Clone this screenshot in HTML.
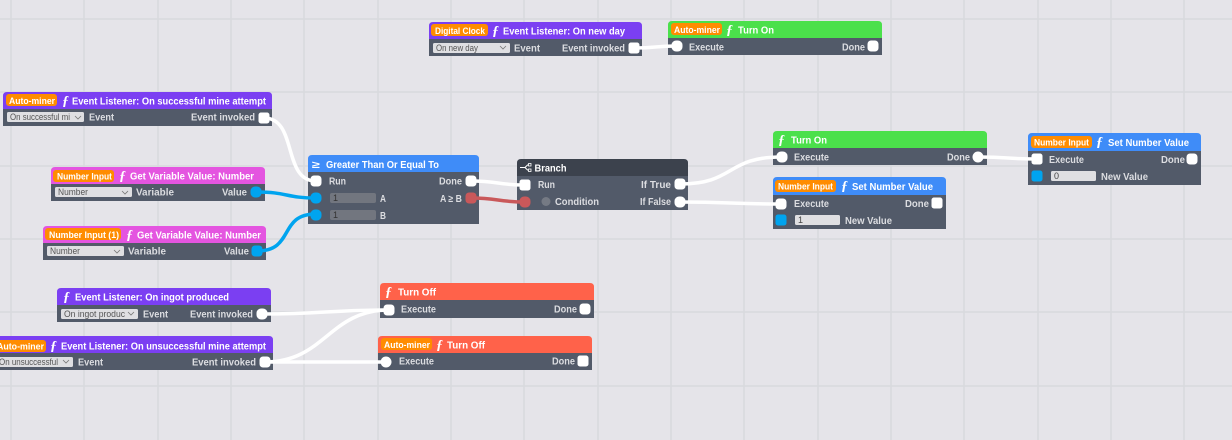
<!DOCTYPE html>
<html><head><meta charset="utf-8"><style>
html,body{margin:0;padding:0;background:#e5e4e9;width:1232px;height:440px;overflow:hidden}
svg{display:block}
text{font-family:"Liberation Sans",sans-serif;font-weight:700;font-size:10px}
.h{fill:#fff}.l{fill:#dcdde1;transform:translateY(-.5px)}.b{fill:#fff;font-size:9.5px}.s{fill:#555;font-size:9px;font-weight:400}
.f{fill:#fff;font-family:"Liberation Serif",serif;font-style:italic;font-size:14px}
.w{fill:none;stroke:#fff;stroke-width:3.5}.u{fill:none;stroke:#00a4ef;stroke-width:3.5}.r{fill:none;stroke:#c9585a;stroke-width:3.5}
.g{stroke:#d8d9dd;stroke-width:1.5}
.d{fill:#525a69}.o{fill:#ff8c00}.c{fill:none;stroke:#777;stroke-width:.8}
.pw{fill:#fff;stroke:#fff;stroke-width:1}.pb{fill:#00a4ef;stroke:#00a4ef;stroke-width:1}.pr{fill:#c9585a;stroke:#c9585a;stroke-width:1}
.sel{fill:#dfdfe2}
</style></head><body>
<svg width="1232" height="440" viewBox="0 0 1232 440" xmlns="http://www.w3.org/2000/svg">
<rect width="1232" height="440" fill="#e5e4e9"/>
<path class="g" d="M11 0V440M84 0V440M158 0V440M231 0V440M304 0V440M378 0V440M451 0V440M524 0V440M598 0V440M671 0V440M744 0V440M818 0V440M891 0V440M964 0V440M1038 0V440M1111 0V440M1184 0V440M0 19H1232M0 92H1232M0 166H1232M0 239H1232M0 312H1232M0 386H1232"/>

<!-- Digital clock -->
<rect class="d" x="429" y="35" width="213" height="21"/>
<path fill="#7b3ff2" d="M429 39V26Q429 22 433 22H638Q642 22 642 26V39Z"/>
<rect class="o" x="431" y="24" width="57" height="12" rx="3"/>
<text class="b" x="435" y="34" textLength="50" lengthAdjust="spacingAndGlyphs">Digital Clock</text>
<text class="f" x="492" y="35">ƒ</text>
<text class="h" x="503" y="34.5" textLength="122" lengthAdjust="spacingAndGlyphs">Event Listener: On new day</text>
<rect class="sel" x="433" y="43" width="77" height="10" rx="1.5"/>
<text class="s" x="436" y="51" textLength="42" lengthAdjust="spacingAndGlyphs">On new day</text>
<path class="c" d="M500 46l3 3 3-3"/>
<text class="l" x="514" y="52" textLength="26" lengthAdjust="spacingAndGlyphs">Event</text>
<text class="l" x="562" y="52" textLength="63" lengthAdjust="spacingAndGlyphs">Event invoked</text>

<!-- Auto-miner turn on -->
<rect class="d" x="668" y="35" width="214" height="20"/>
<path fill="#4be04b" d="M668 38V25Q668 21 672 21H878Q882 21 882 25V38Z"/>
<rect class="o" x="671" y="23" width="51" height="12" rx="3"/>
<text class="b" x="674" y="33" textLength="46" lengthAdjust="spacingAndGlyphs">Auto-miner</text>
<text class="f" x="726" y="34">ƒ</text>
<text class="h" x="738" y="33.5" textLength="36" lengthAdjust="spacingAndGlyphs">Turn On</text>
<text class="l" x="689" y="51" textLength="35" lengthAdjust="spacingAndGlyphs">Execute</text>
<text class="l" x="842" y="51" textLength="23" lengthAdjust="spacingAndGlyphs">Done</text>

<!-- Mine attempt -->
<rect class="d" x="3" y="105" width="269" height="21"/>
<path fill="#7b3ff2" d="M3 109V96Q3 92 7 92H268Q272 92 272 96V109Z"/>
<rect class="o" x="6" y="94" width="51" height="12" rx="3"/>
<text class="b" x="9" y="104" textLength="46" lengthAdjust="spacingAndGlyphs">Auto-miner</text>
<text class="f" x="62" y="105">ƒ</text>
<text class="h" x="72" y="104.5" textLength="194" lengthAdjust="spacingAndGlyphs">Event Listener: On successful mine attempt</text>
<rect class="sel" x="7" y="112" width="77" height="10" rx="1.5"/>
<text class="s" x="10" y="120" textLength="60" lengthAdjust="spacingAndGlyphs">On successful mi</text>
<path class="c" d="M75 116l3 3 3-3"/>
<text class="l" x="89" y="121" textLength="25" lengthAdjust="spacingAndGlyphs">Event</text>
<text class="l" x="191" y="121" textLength="64" lengthAdjust="spacingAndGlyphs">Event invoked</text>

<!-- Number input get -->
<rect class="d" x="51" y="180" width="214" height="21"/>
<path fill="#e455e0" d="M51 184V171Q51 167 55 167H261Q265 167 265 171V184Z"/>
<rect class="o" x="53" y="170" width="61" height="12" rx="3"/>
<text class="b" x="57" y="179.5" textLength="55" lengthAdjust="spacingAndGlyphs">Number Input</text>
<text class="f" x="119" y="180">ƒ</text>
<text class="h" x="130" y="179.5" textLength="124" lengthAdjust="spacingAndGlyphs">Get Variable Value: Number</text>
<rect class="sel" x="55" y="187" width="77" height="10" rx="1.5"/>
<text class="s" x="58" y="195" textLength="30" lengthAdjust="spacingAndGlyphs">Number</text>
<path class="c" d="M122 191l3 3 3-3"/>
<text class="l" x="136" y="196" textLength="38" lengthAdjust="spacingAndGlyphs">Variable</text>
<text class="l" x="222" y="196" textLength="25" lengthAdjust="spacingAndGlyphs">Value</text>

<!-- Number input (1) get -->
<rect class="d" x="43" y="239" width="223" height="21"/>
<path fill="#e455e0" d="M43 243V230Q43 226 47 226H262Q266 226 266 230V243Z"/>
<rect class="o" x="45" y="228" width="76" height="12" rx="3"/>
<text class="b" x="49" y="238" textLength="70" lengthAdjust="spacingAndGlyphs">Number Input (1)</text>
<text class="f" x="126" y="239">ƒ</text>
<text class="h" x="137" y="238.5" textLength="124" lengthAdjust="spacingAndGlyphs">Get Variable Value: Number</text>
<rect class="sel" x="47" y="246" width="77" height="10" rx="1.5"/>
<text class="s" x="50" y="254" textLength="30" lengthAdjust="spacingAndGlyphs">Number</text>
<path class="c" d="M114 250l3 3 3-3"/>
<text class="l" x="128" y="255" textLength="38" lengthAdjust="spacingAndGlyphs">Variable</text>
<text class="l" x="224" y="255" textLength="25" lengthAdjust="spacingAndGlyphs">Value</text>

<!-- GTE -->
<rect class="d" x="308" y="168" width="171" height="56"/>
<path fill="#3f8cf8" d="M308 172V159Q308 155 312 155H475Q479 155 479 159V172Z"/>
<text class="h" x="312" y="168" font-size="11" textLength="8" lengthAdjust="spacingAndGlyphs">≥</text>
<text class="h" x="326" y="168" textLength="113" lengthAdjust="spacingAndGlyphs">Greater Than Or Equal To</text>
<text class="l" x="329" y="185" textLength="17" lengthAdjust="spacingAndGlyphs">Run</text>
<text class="l" x="439" y="185" textLength="23" lengthAdjust="spacingAndGlyphs">Done</text>
<rect x="330" y="193" width="46" height="10" rx="2" fill="#72767f"/>
<text class="s" x="333" y="201" style="fill:#333">1</text>
<text class="l" x="380" y="202.500" textLength="6" lengthAdjust="spacingAndGlyphs">A</text>
<text class="l" x="440" y="202.500" textLength="22" lengthAdjust="spacingAndGlyphs">A ≥ B</text>
<rect x="330" y="210" width="46" height="10" rx="2" fill="#72767f"/>
<text class="s" x="333" y="218" style="fill:#333">1</text>
<text class="l" x="380" y="219.500" textLength="6" lengthAdjust="spacingAndGlyphs">B</text>

<!-- Branch -->
<rect class="d" x="517" y="172" width="171" height="38"/>
<path fill="#3c424d" d="M517 176V163Q517 159 521 159H684Q688 159 688 163V176Z"/>
<path fill="none" stroke="#fff" stroke-width="1" d="M520 167.500h5l2.500-2.500h1M525 167.500l2.500 2.500h1"/>
<rect x="528.500" y="163.500" width="2.500" height="2.500" fill="none" stroke="#fff" stroke-width=".8"/>
<rect x="528.500" y="169" width="2.500" height="2.500" fill="none" stroke="#fff" stroke-width=".8"/>
<text class="h" x="534.500" y="171.500" textLength="32" lengthAdjust="spacingAndGlyphs">Branch</text>
<text class="l" x="538" y="188.500" textLength="17" lengthAdjust="spacingAndGlyphs">Run</text>
<text class="l" x="641" y="188.500" textLength="30" lengthAdjust="spacingAndGlyphs">If True</text>
<circle cx="546" cy="201.500" r="4.500" fill="#757a84"/>
<text class="l" x="555" y="205.500" textLength="44" lengthAdjust="spacingAndGlyphs">Condition</text>
<text class="l" x="640" y="205.500" textLength="31" lengthAdjust="spacingAndGlyphs">If False</text>

<!-- Turn On -->
<rect class="d" x="773" y="144" width="214" height="21"/>
<path fill="#4be04b" d="M773 148V135Q773 131 777 131H983Q987 131 987 135V148Z"/>
<text class="f" x="778" y="144">ƒ</text>
<text class="h" x="791" y="143.500" textLength="36" lengthAdjust="spacingAndGlyphs">Turn On</text>
<text class="l" x="794" y="161" textLength="35" lengthAdjust="spacingAndGlyphs">Execute</text>
<text class="l" x="947" y="161" textLength="23" lengthAdjust="spacingAndGlyphs">Done</text>

<!-- Set lower -->
<rect class="d" x="773" y="190" width="173" height="39"/>
<path fill="#3f8cf8" d="M773 195V181Q773 177 777 177H942Q946 177 946 181V195Z"/>
<rect class="o" x="775" y="180" width="61" height="12" rx="3"/>
<text class="b" x="778" y="189.500" textLength="55" lengthAdjust="spacingAndGlyphs">Number Input</text>
<text class="f" x="841" y="190">ƒ</text>
<text class="h" x="852" y="190" textLength="81" lengthAdjust="spacingAndGlyphs">Set Number Value</text>
<text class="l" x="794" y="207.500" textLength="35" lengthAdjust="spacingAndGlyphs">Execute</text>
<text class="l" x="905" y="207.500" textLength="24" lengthAdjust="spacingAndGlyphs">Done</text>
<rect x="795" y="215" width="45" height="10" rx="1.500" fill="#dfdfe2"/>
<text class="s" x="798" y="223" style="fill:#444">1</text>
<text class="l" x="845" y="224.500" textLength="47" lengthAdjust="spacingAndGlyphs">New Value</text>

<!-- Set right -->
<rect class="d" x="1028" y="146" width="173" height="39"/>
<path fill="#3f8cf8" d="M1028 151V137Q1028 133 1032 133H1197Q1201 133 1201 137V151Z"/>
<rect class="o" x="1031" y="136" width="61" height="12" rx="3"/>
<text class="b" x="1034" y="145.500" textLength="55" lengthAdjust="spacingAndGlyphs">Number Input</text>
<text class="f" x="1096" y="146">ƒ</text>
<text class="h" x="1108" y="146" textLength="81" lengthAdjust="spacingAndGlyphs">Set Number Value</text>
<text class="l" x="1049" y="163.500" textLength="35" lengthAdjust="spacingAndGlyphs">Execute</text>
<text class="l" x="1161" y="163.500" textLength="24" lengthAdjust="spacingAndGlyphs">Done</text>
<rect x="1051" y="171" width="45" height="10" rx="1.500" fill="#dfdfe2"/>
<text class="s" x="1054" y="179" style="fill:#444">0</text>
<text class="l" x="1101" y="180.500" textLength="47" lengthAdjust="spacingAndGlyphs">New Value</text>

<!-- Ingot -->
<rect class="d" x="57" y="301" width="214" height="21"/>
<path fill="#7b3ff2" d="M57 305V292Q57 288 61 288H267Q271 288 271 292V305Z"/>
<text class="f" x="63" y="301">ƒ</text>
<text class="h" x="75" y="300.500" textLength="154" lengthAdjust="spacingAndGlyphs">Event Listener: On ingot produced</text>
<rect class="sel" x="61" y="309" width="77" height="10" rx="1.500"/>
<text class="s" x="64" y="317" textLength="61" lengthAdjust="spacingAndGlyphs">On ingot produc</text>
<path class="c" d="M128 312l3 3 3-3"/>
<text class="l" x="143" y="318" textLength="25" lengthAdjust="spacingAndGlyphs">Event</text>
<text class="l" x="190" y="318" textLength="63" lengthAdjust="spacingAndGlyphs">Event invoked</text>

<!-- Unsuccessful -->
<rect class="d" x="-6" y="349" width="279" height="21"/>
<path fill="#7b3ff2" d="M-6 353V340Q-6 336 -2 336H269Q273 336 273 340V353Z"/>
<rect class="o" x="-6" y="340" width="52" height="12" rx="3"/>
<text class="b" x="-3" y="349.500" textLength="47" lengthAdjust="spacingAndGlyphs">Auto-miner</text>
<text class="f" x="50" y="350">ƒ</text>
<text class="h" x="61" y="349.500" textLength="205" lengthAdjust="spacingAndGlyphs">Event Listener: On unsuccessful mine attempt</text>
<rect class="sel" x="-4" y="357" width="77" height="10" rx="1.500"/>
<text class="s" x="-1" y="365" textLength="59" lengthAdjust="spacingAndGlyphs">On unsuccessful</text>
<path class="c" d="M63 360l3 3 3-3"/>
<text class="l" x="78" y="366" textLength="25" lengthAdjust="spacingAndGlyphs">Event</text>
<text class="l" x="192" y="366" textLength="64" lengthAdjust="spacingAndGlyphs">Event invoked</text>

<!-- Turn Off -->
<rect class="d" x="380" y="296" width="214" height="22"/>
<path fill="#ff624a" d="M380 300V287Q380 283 384 283H590Q594 283 594 287V300Z"/>
<text class="f" x="385" y="296">ƒ</text>
<text class="h" x="398" y="295.500" textLength="38" lengthAdjust="spacingAndGlyphs">Turn Off</text>
<text class="l" x="401" y="313" textLength="35" lengthAdjust="spacingAndGlyphs">Execute</text>
<text class="l" x="554" y="313" textLength="23" lengthAdjust="spacingAndGlyphs">Done</text>

<!-- Auto-miner Turn Off -->
<rect class="d" x="378" y="349" width="214" height="21"/>
<path fill="#ff624a" d="M378 353V340Q378 336 382 336H588Q592 336 592 340V353Z"/>
<rect class="o" x="381" y="338" width="51" height="12" rx="3"/>
<text class="b" x="384" y="348" textLength="46" lengthAdjust="spacingAndGlyphs">Auto-miner</text>
<text class="f" x="436" y="349">ƒ</text>
<text class="h" x="447" y="348.500" textLength="38" lengthAdjust="spacingAndGlyphs">Turn Off</text>
<text class="l" x="399" y="365" textLength="35" lengthAdjust="spacingAndGlyphs">Execute</text>
<text class="l" x="552" y="365" textLength="23" lengthAdjust="spacingAndGlyphs">Done</text>

<!-- Wires -->
<path class="w" d="M634 48C656 48 655 46 677 46"/>
<path class="w" d="M264 118C298 118 282 181 316 181"/>
<path class="u" d="M257 192C287 192 286 198 316 198"/>
<path class="u" d="M257 251C295 251 278 214 316 214"/>
<path class="w" d="M471 181C498 181 498 185 525 185"/>
<path class="r" d="M471 198C498 198 498 202 525 202"/>
<path class="w" d="M680 184C735 184 726 157 781 157"/>
<path class="w" d="M680 202C730 202 731 204 781 204"/>
<path class="w" d="M979 157C1008 157 1008 159 1037 159"/>
<path class="w" d="M262 314C325 314 326 310 389 310"/>
<path class="w" d="M265 362C325 362 329 310 389 310"/>
<path class="w" d="M265 362C325 362 327 362 387 362"/>

<!-- Ports -->
<rect class="pw" x="629" y="43" width="10" height="10" rx="2"/>
<rect class="pw" x="672" y="41" width="10" height="10" rx="4"/>
<rect class="pw" x="868" y="41" width="10" height="10" rx="3"/>
<rect class="pw" x="259" y="113" width="10" height="10" rx="2"/>
<rect class="pb" x="251" y="187" width="10" height="10" rx="4"/>
<rect class="pb" x="252" y="246" width="10" height="10" rx="3"/>
<rect class="pw" x="311" y="176" width="10" height="10" rx="3"/>
<rect class="pb" x="311" y="193" width="10" height="10" rx="4"/>
<rect class="pb" x="311" y="210" width="10" height="10" rx="4"/>
<rect class="pw" x="466" y="176" width="10" height="10" rx="3"/>
<rect class="pr" x="466" y="193" width="10" height="10" rx="3"/>
<rect class="pw" x="520" y="180" width="10" height="10" rx="2"/>
<rect class="pr" x="520" y="197" width="10" height="10" rx="4"/>
<rect class="pw" x="675" y="179" width="10" height="10" rx="3"/>
<rect class="pw" x="675" y="197" width="10" height="10" rx="4"/>
<rect class="pw" x="777" y="152" width="10" height="10" rx="4"/>
<rect class="pw" x="973" y="152" width="10" height="10" rx="5"/>
<rect class="pw" x="776" y="199" width="10" height="10" rx="3"/>
<rect class="pw" x="932" y="198" width="10" height="10" rx="2"/>
<rect class="pb" x="776" y="215" width="10" height="10" rx="2"/>
<rect class="pw" x="1032" y="154" width="10" height="10" rx="2"/>
<rect class="pw" x="1187" y="154" width="10" height="10" rx="3"/>
<rect class="pb" x="1032" y="171" width="10" height="10" rx="2"/>
<rect class="pw" x="257" y="309" width="10" height="10" rx="4"/>
<rect class="pw" x="260" y="357" width="10" height="10" rx="3"/>
<rect class="pw" x="384" y="305" width="10" height="10" rx="3"/>
<rect class="pw" x="580" y="304" width="10" height="10" rx="3"/>
<rect class="pw" x="381" y="357" width="10" height="10" rx="5"/>
<rect class="pw" x="578" y="356" width="10" height="10" rx="2"/>
</svg>
</body></html>
